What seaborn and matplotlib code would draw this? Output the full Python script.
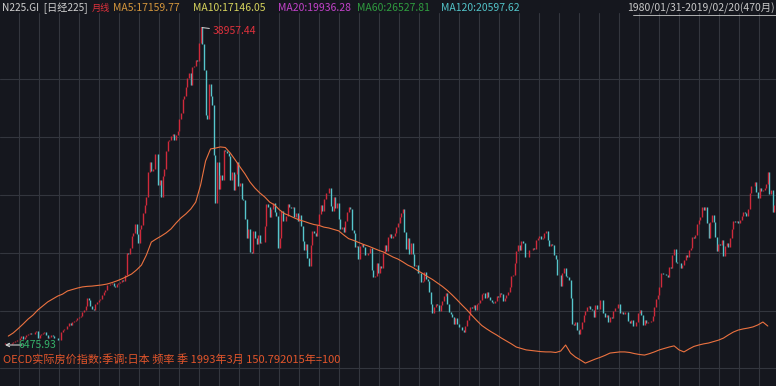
import numpy as np
import pandas as pd
import matplotlib
matplotlib.use("Agg")
import matplotlib.pyplot as plt
import seaborn as sns
from matplotlib.lines import Line2D

# ---------------- data ----------------
first_open = 6569  # open of 1980/01
nikkei_close = [
    6700, 6650, 6580, 6590, 6660, 6790, 6840, 6990, 7000, 7150, 7350, 7116,        # 1980
    7280, 7450, 7640, 7700, 7650, 7650, 7840, 7900, 7200, 7500, 7650, 7680,        # 1981
    7800, 7500, 7150, 7300, 7500, 7350, 7200, 7150, 7000, 7000, 7800, 8016,        # 1982
    8100, 8100, 8400, 8700, 8500, 8800, 8900, 9000, 9200, 9300, 9400, 9894,        # 1983
    10100, 10500, 11300, 11100, 10500, 10200, 10100, 10700, 10900, 11100, 11200, 11543,  # 1984
    11900, 12100, 12600, 12600, 12700, 12800, 12500, 12400, 12700, 12800, 12900, 13113,  # 1985
    13000, 13600, 15860, 15800, 16400, 17600, 17900, 18800, 17800, 16900, 18300, 18701,  # 1986
    20000, 20800, 21570, 24100, 25200, 24200, 24500, 26000, 26000, 22800, 23300, 21564,  # 1987
    23700, 24500, 26300, 27300, 27400, 27800, 28000, 27400, 27900, 28300, 29600, 30159,  # 1988
    31600, 31900, 32800, 33700, 34300, 33000, 34900, 35000, 35600, 35500, 37300, 38916,  # 1989
    37200, 34600, 29980, 29600, 33100, 31900, 31000, 25900, 20980, 25200, 22450, 23849,  # 1990
    23300, 26400, 26300, 26100, 25800, 23300, 24100, 22300, 23900, 25200, 22700, 22984,  # 1991
    21400, 21300, 19300, 17400, 18300, 15950, 15900, 18100, 17400, 16800, 17700, 16925,  # 1992
    17000, 17000, 18600, 20900, 20600, 19600, 20400, 21000, 20100, 19700, 16400, 17417,  # 1993
    20200, 19100, 19100, 19700, 20900, 20600, 20450, 20600, 19560, 19990, 19100, 19723,  # 1994
    18650, 17050, 16140, 16800, 15400, 14520, 16680, 18120, 17910, 17650, 18750, 19868,  # 1995
    20800, 20120, 21400, 22040, 21960, 22530, 20690, 20170, 21560, 20470, 21020, 19361,  # 1996
    18330, 18560, 18000, 19150, 20070, 20600, 20330, 18230, 17890, 16460, 16630, 15259,  # 1997
    16630, 16830, 16530, 15640, 15670, 15830, 16380, 14110, 13410, 13560, 14880, 13842,  # 1998
    14500, 14370, 15840, 16700, 16110, 17530, 17860, 17440, 17610, 17940, 18560, 18934,  # 1999
    19540, 19960, 20340, 17970, 16330, 17410, 15730, 16860, 15750, 14540, 14650, 13786,  # 2000
    13840, 12880, 13000, 13930, 13260, 12970, 11860, 10710, 9770, 10370, 10700, 10543,   # 2001
    9990, 10590, 11020, 11490, 11760, 10620, 9880, 9620, 9380, 8640, 9220, 8579,         # 2002
    8340, 8360, 7970, 7830, 8420, 9080, 9560, 10340, 10220, 10560, 10100, 10677,         # 2003
    10780, 11040, 11720, 11760, 11240, 11860, 11330, 11080, 10820, 10770, 11000, 11489,  # 2004
    11390, 11740, 11670, 11010, 11280, 11580, 11900, 12410, 13570, 13610, 14870, 16111,  # 2005
    16650, 16210, 17060, 16910, 15470, 15510, 15460, 16140, 16130, 16400, 16270, 17226,  # 2006
    17380, 17600, 17290, 17400, 17880, 18140, 17250, 16570, 16790, 16740, 15680, 15308,  # 2007
    13590, 13600, 12530, 13850, 14340, 13480, 13380, 13070, 11260, 8580, 8510, 8860,     # 2008
    7990, 7570, 8110, 8830, 9520, 9960, 10360, 10490, 10130, 10030, 9350, 10546,         # 2009
    10200, 10130, 11090, 11060, 9770, 9380, 9540, 8820, 9370, 9200, 9940, 10229,         # 2010
    10240, 10620, 9760, 9850, 9690, 9820, 9830, 8960, 8700, 8990, 8430, 8455,            # 2011
    8800, 9720, 10080, 9520, 8540, 9010, 8700, 8840, 8870, 8930, 9450, 10395,            # 2012
    11140, 11560, 12400, 13860, 13770, 13680, 13670, 13390, 14460, 14330, 15660, 16291,  # 2013
    14910, 14840, 14830, 14300, 14630, 15160, 15620, 15420, 16170, 16410, 17460, 17451,  # 2014
    17670, 18800, 19210, 19520, 20560, 20240, 20590, 18890, 17390, 19080, 19750, 19034,  # 2015
    17520, 16030, 16760, 16670, 17230, 15580, 16570, 16890, 16450, 17430, 18310, 19114,  # 2016
    19040, 19120, 18910, 19200, 19650, 20030, 19930, 19650, 20360, 22010, 22720, 22765,  # 2017
    23100, 22070, 21450, 22470, 22200, 22300, 22550, 22870, 24120, 21920, 22350, 20015,  # 2018
    20770, 21430,                                                                        # 2019
]

# OECD real house price index, Japan, quarterly from 1980Q1 (2015=100)
house_index = [
    102.4, 103.5, 105.0, 106.6, 108.3, 109.7, 111.5, 112.9, 114.3, 115.3,
    116.3, 117.0, 118.1, 118.6, 119.1, 119.5, 119.7, 119.8, 120.0, 120.2,
    120.5, 121.0, 121.6, 122.3, 123.1, 124.0, 125.4, 127.1, 130.6, 135.1,
    136.2, 137.2, 138.3, 139.7, 141.7, 143.5, 144.9, 146.6, 149.0, 155.0,
    163.3, 167.5, 167.8, 168.2, 168.0, 166.1, 163.7, 161.2, 158.8, 156.0,
    153.9, 152.2, 150.79, 149.0, 148.0, 146.3, 145.0, 144.3, 143.5, 142.8,
    142.3, 141.7, 141.2, 140.9, 140.3, 140.0, 139.5, 139.0, 137.6, 136.3,
    135.7, 135.0, 134.3, 133.7, 133.0, 132.3, 131.7, 130.8, 129.9, 129.2,
    128.2, 127.1, 126.3, 125.2, 124.2, 123.1, 122.1, 120.9, 119.7, 118.3,
    116.7, 115.0, 113.2, 111.5, 109.6, 107.8, 106.1, 104.9, 103.8, 102.8,
    101.7, 100.7, 99.7, 98.6, 98.1, 97.6, 97.4, 97.2, 97.0, 96.9,
    96.9, 96.7, 97.2, 99.3, 96.5, 95.1, 94.1, 93.0, 93.7, 94.4,
    95.0, 95.7, 96.5, 96.7, 96.9, 96.9, 96.7, 96.3, 96.0, 95.8,
    96.3, 96.9, 97.6, 98.1, 98.6, 99.0, 97.6, 96.9, 97.9, 98.8,
    99.3, 99.7, 100.0, 100.5, 101.0, 101.7, 102.8, 103.8, 104.5, 104.9,
    105.2, 105.6, 106.3, 107.3, 105.9,
]

header_items = [
    ("N225.GI  [日经225]", "#cfcfcf", 7.3),
    ("月线", "#e0313c", 6.6),
    ("MA5:17159.77", "#d4963c", 7.5),
    ("MA10:17146.05", "#d6d35c", 7.5),
    ("MA20:19936.28", "#c242c9", 7.5),
    ("MA60:26527.81", "#2f9c3f", 7.5),
    ("MA120:20597.62", "#52c3c8", 7.5),
]
date_range = "1980/01/31-2019/02/20(470月)"
peak_label = "38957.44"
low_value = 6475.93
low_label = "6475.93"
house_label = "OECD实际房价指数:季调:日本 频率 季 1993年3月 150.792015年=100"

# ---------------- figure ----------------
W, H = 776, 386
sns.set_style("dark")
plt.rcParams['font.family'] = ['Noto Sans CJK SC', 'DejaVu Sans']
bg = "#15171e"
grid_c = "#33363e"
up_c = "#cf2a3b"
down_c = "#56c6cc"
house_c = "#ec7240"

fig = plt.figure(figsize=(W / 100, H / 100), dpi=100)
fig.patch.set_facecolor(bg)
ax = fig.add_axes([0, 0, 1, 1])
ax.set_facecolor(bg)

# grid (pixel-based layout of the terminal style chart)
for gx in range(19, 776, 20):
    ax.plot([gx / W, gx / W], [0, 1 - 13 / H], transform=ax.transAxes,
            color=grid_c, lw=0.8, zorder=0.5)
for gy in [79, 137, 195, 253, 311, 368]:
    ax.plot([0, 1], [1 - gy / H] * 2, transform=ax.transAxes,
            color=grid_c, lw=0.8, zorder=0.5)

close = np.array(nikkei_close, dtype=float)
opens = np.concatenate([[first_open], close[:-1]])
df = pd.DataFrame({"m": np.arange(len(close)), "open": opens, "close": close})
df["lo"] = df[["open", "close"]].min(axis=1)
df["hi"] = df[["open", "close"]].max(axis=1)
df["up"] = df["close"] >= df["open"]

for is_up, sub in df.groupby("up"):
    ax.vlines(sub["m"], sub["lo"], sub["hi"], colors=up_c if is_up else down_c,
              lw=1.0, zorder=2)

px_per_m = 1.644
ax.set_xlim(-5 / px_per_m, (W - 5) / px_per_m)
v_per_px = 32481 / 318.0
ax.set_ylim(6476 - (H - 345) * v_per_px, 6476 + 345 * v_per_px)

# house price line on a secondary scale
ax2 = ax.twinx()
hdf = pd.DataFrame({"m": np.arange(len(house_index)) * 3 + 2, "v": house_index})
sns.lineplot(data=hdf, x="m", y="v", ax=ax2, color=house_c, lw=0.8)
ax2.set_ylim(100 - (H - 343) / 2.875, 100 + 343 / 2.875)
ax2.set_xlim(ax.get_xlim())

for a in (ax, ax2):
    a.set_xticks([])
    a.set_yticks([])
    a.set_xlabel("")
    a.set_ylabel("")
    for s in a.spines.values():
        s.set_visible(False)

# peak annotation
pk = df["close"].idxmax()
ax.annotate(peak_label, xy=(pk, df.loc[pk, "close"]), xytext=(12, -4),
            textcoords="offset pixels", color="#e0313c", fontsize=7.5,
            va="center", ha="left",
            arrowprops=dict(arrowstyle="-", color="#d8d8d8", lw=0.7,
                            shrinkA=0, shrinkB=1))
# low annotation
ax.annotate("", xy=(0, low_value), xytext=(17 / px_per_m, low_value),
            arrowprops=dict(arrowstyle="->", color="#d0d0d0", lw=0.8,
                            mutation_scale=6, shrinkA=0, shrinkB=0))
ax.annotate(low_label, xy=(0, low_value), xytext=(13, 0), textcoords="offset pixels",
            color="#35b36a", fontsize=7.5, va="center", ha="left")

# header
hx = [2, 92, 113, 193, 278, 357, 441]
for x0, (txt, col, fs) in zip(hx, header_items):
    fig.text(x0 / W, 1 - 8 / H, txt, color=col, fontsize=fs, va="center", ha="left")
fig.text(775 / W, 1 - 8 / H, date_range, color="#c8c8c8", fontsize=7.5,
         va="center", ha="right")
fig.add_artist(Line2D([633 / W, 776 / W], [1 - 15 / H] * 2, color="#c8c8c8", lw=0.6))

# bottom label
fig.text(3 / W, 1 - 359 / H, house_label, color="#e2552b", fontsize=8,
         va="center", ha="left")

fig.savefig("out.png", dpi=100, facecolor=bg)
